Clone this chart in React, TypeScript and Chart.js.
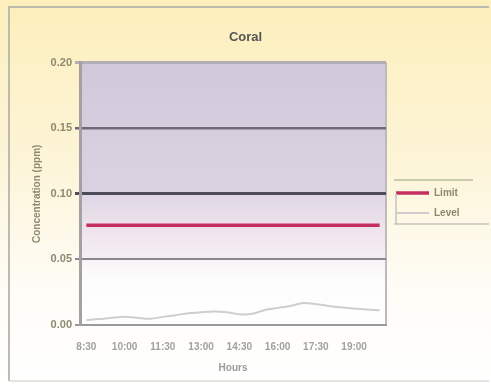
import React, { useEffect, useRef } from 'react';
import { Chart, registerables } from 'chart.js';
Chart.register(...registerables);

const timeLabels = ['8:30','9:00','9:30','10:00','10:30','11:00','11:30','12:00','12:30','13:00','13:30','14:00','14:30','15:00','15:30','16:00','16:30','17:00','17:30','18:00','18:30','19:00','19:30','20:00'];
const limitSeries = [0.076,0.076,0.076,0.076,0.076,0.076,0.076,0.076,0.076,0.076,0.076,0.076,0.076,0.076,0.076,0.076,0.076,0.076,0.076,0.076,0.076,0.076,0.076,0.076];
const levelSeries = [0.0038,0.0045,0.0055,0.0062,0.0055,0.0047,0.0062,0.0075,0.009,0.0097,0.0102,0.0098,0.0082,0.0085,0.0115,0.013,0.0145,0.0168,0.016,0.0145,0.0135,0.0125,0.0118,0.0112];
const seriesNames = ['Limit', 'Level'];
const yTickValues = [0, 0.05, 0.1, 0.15, 0.2];
const yTickLabels = ['0.00', '0.05', '0.10', '0.15', '0.20'];
const bandEdges = [0.2, 0.1, 0.05, 0];

const FONT = '"Liberation Sans", Arial, sans-serif';
const LEGEND_WIDTH = 105;

export default function App() {
  const ref = useRef<HTMLCanvasElement>(null);
  useEffect(() => {
    document.body.style.margin = '0';
    const bgPlugin = {
      id: 'bgPlugin',
      beforeDraw(chart: any) {
        const { ctx, width, height, chartArea, scales } = chart;
        ctx.save();
        const g = ctx.createLinearGradient(0, 0, 0, height);
        g.addColorStop(0, '#fcefbc');
        g.addColorStop(0.4, '#fdf4d6');
        g.addColorStop(0.75, '#fefcf6');
        g.addColorStop(1, '#ffffff');
        ctx.fillStyle = g;
        ctx.fillRect(0, 0, width, height);
        // outer frame
        ctx.strokeStyle = '#bdbab0';
        ctx.lineWidth = 2;
        ctx.beginPath();
        ctx.moveTo(9, height - 3);
        ctx.lineTo(9, 7);
        ctx.lineTo(width - 2, 7);
        ctx.stroke();
        ctx.strokeStyle = '#e4e2dc';
        ctx.beginPath();
        ctx.moveTo(9, height - 3);
        ctx.lineTo(width - 2, height - 3);
        ctx.stroke();
        // plot bands
        const y = scales.y;
        const l = chartArea.left, r = chartArea.right;
        const p0 = y.getPixelForValue(bandEdges[0]);
        const p1 = y.getPixelForValue(bandEdges[1]);
        const p2 = y.getPixelForValue(bandEdges[2]);
        const p3 = y.getPixelForValue(bandEdges[3]);
        let gg = ctx.createLinearGradient(0, p0, 0, p1);
        gg.addColorStop(0, '#d1c8da');
        gg.addColorStop(1, '#dbd2e1');
        ctx.fillStyle = gg;
        ctx.fillRect(l, p0, r - l, p1 - p0);
        gg = ctx.createLinearGradient(0, p1, 0, p2);
        gg.addColorStop(0, '#dfd6e5');
        gg.addColorStop(0.6, '#f0e5ee');
        gg.addColorStop(1, '#f5eff4');
        ctx.fillStyle = gg;
        ctx.fillRect(l, p1, r - l, p2 - p1);
        gg = ctx.createLinearGradient(0, p2, 0, p3);
        gg.addColorStop(0, '#f8f3f6');
        gg.addColorStop(0.3, '#fdfcfd');
        gg.addColorStop(1, '#ffffff');
        ctx.fillStyle = gg;
        ctx.fillRect(l, p2, r - l, p3 - p2);
        // right edge of plot
        ctx.strokeStyle = '#bcbabc';
        ctx.lineWidth = 2;
        ctx.beginPath();
        ctx.moveTo(r, p0);
        ctx.lineTo(r, p3);
        ctx.stroke();
        ctx.restore();
      },
      afterDraw(chart: any) {
        const lg = chart.legend;
        if (!lg || !lg.legendHitBoxes || !lg.legendHitBoxes.length) return;
        const hb = lg.legendHitBoxes;
        const first = hb[0];
        const last = hb[hb.length - 1];
        const { ctx, width } = chart;
        const x0 = first.left - 2;
        const yTop = first.top - 8;
        const yBot = last.top + last.height + 6;
        ctx.save();
        ctx.lineWidth = 1.5;
        ctx.strokeStyle = '#b8bc9c';
        ctx.beginPath();
        ctx.moveTo(x0, yTop);
        ctx.lineTo(width - 18, yTop);
        ctx.stroke();
        ctx.strokeStyle = '#c4c4c0';
        ctx.beginPath();
        ctx.moveTo(x0 + 2, first.top + first.height / 2);
        ctx.lineTo(x0 + 2, yBot);
        ctx.moveTo(x0, yBot);
        ctx.lineTo(width - 2, yBot);
        ctx.stroke();
        ctx.restore();
      },
    };

    const chart = new Chart(ref.current as HTMLCanvasElement, {
      type: 'line',
      data: {
        labels: timeLabels,
        datasets: [
          {
            label: seriesNames[0],
            data: limitSeries,
            borderColor: '#c42f60',
            backgroundColor: '#c42f60',
            borderWidth: 3.5,
            pointRadius: 0,
            tension: 0,
          },
          {
            label: seriesNames[1],
            data: levelSeries,
            borderColor: '#cfcdcf',
            backgroundColor: '#cfcdcf',
            borderWidth: 2,
            pointRadius: 0,
            tension: 0.3,
          },
        ],
      },
      options: {
        animation: false,
        responsive: true,
        maintainAspectRatio: false,
        layout: { padding: { left: 0, top: 30, right: 0, bottom: 8 } },
        plugins: {
          title: {
            display: true,
            text: 'Coral',
            color: '#555555',
            font: { family: FONT, size: 13 },
            padding: { top: 0, bottom: 17 },
          },
          legend: {
            display: true,
            position: 'right',
            labels: {
              usePointStyle: true,
              pointStyle: 'line',
              pointStyleWidth: 33,
              boxWidth: 33,
              color: '#8c8a6e',
              font: { family: FONT, size: 10, weight: 'bold' },
              padding: 10,
            },
          },
          tooltip: { enabled: false },
        },
        scales: {
          x: {
            type: 'category',
            offset: true,
            grid: { display: false, drawTicks: false },
            border: { color: '#9a9a9a', width: 2 },
            ticks: {
              autoSkip: false,
              maxRotation: 0,
              padding: 16,
              color: '#a0a0a0',
              font: { family: FONT, size: 10, weight: 'bold' },
              callback: (_v: any, i: number) => (i % 3 === 0 ? timeLabels[i] : ''),
            },
            title: {
              display: true,
              text: 'Hours',
              color: '#9a9a9a',
              font: { family: FONT, size: 10, weight: 'bold' },
              padding: { top: 0, bottom: 2 },
            },
            afterFit: (s: any) => { s.height = 51; },
          },
          y: {
            min: 0,
            max: 0.2,
            afterBuildTicks: (s: any) => { s.ticks = yTickValues.map((v) => ({ value: v })); },
            grid: {
              tickLength: 5,
              color: (c: any) => {
                const v = c.tick ? c.tick.value : 0;
                if (v === 0.2) return '#b2aeb4';
                if (v === 0.15) return '#6f6a78';
                if (v === 0.1) return '#4f4b5b';
                if (v === 0.05) return '#8a8690';
                return '#9a9a9a';
              },
              lineWidth: (c: any) => {
                const v = c.tick ? c.tick.value : 0;
                if (v === 0.2) return 3;
                if (v === 0.15) return 2.5;
                if (v === 0.1) return 3;
                return 2;
              },
            },
            border: { color: '#a2a2a2', width: 3 },
            ticks: {
              padding: 3,
              color: '#8c8a6e',
              font: { family: FONT, size: 11, weight: 'bold' },
              callback: (v: any) => {
                const i = yTickValues.indexOf(Number(v));
                return i >= 0 ? yTickLabels[i] : '';
              },
            },
            title: {
              display: true,
              text: 'Concentration (ppm)',
              color: '#8c8a6e',
              font: { family: FONT, size: 10, weight: 'bold' },
              padding: { top: 31, bottom: 0 },
            },
            afterFit: (s: any) => { s.width = 80; },
          },
        },
      },
      plugins: [bgPlugin],
    } as any);

    const lg: any = (chart as any).legend;
    if (lg) {
      const origFit = lg.fit.bind(lg);
      lg.fit = () => {
        origFit();
        lg.width = LEGEND_WIDTH;
      };
      chart.update();
    }
    return () => chart.destroy();
  }, []);

  return (
    <div style={{ position: 'absolute', left: 0, top: 0, width: 491, height: 384 }}>
      <canvas ref={ref} />
    </div>
  );
}
